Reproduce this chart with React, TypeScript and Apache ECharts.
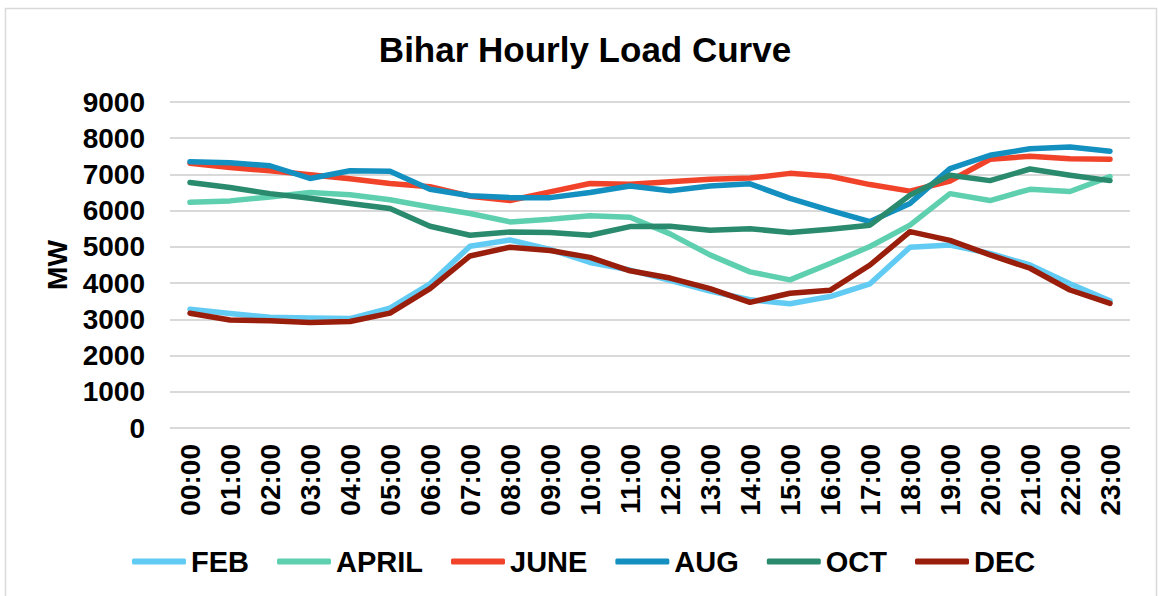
import React, { useEffect, useRef } from "react";
import * as echarts from "echarts";

const hours = [
  "00:00", "01:00", "02:00", "03:00", "04:00", "05:00", "06:00", "07:00",
  "08:00", "09:00", "10:00", "11:00", "12:00", "13:00", "14:00", "15:00",
  "16:00", "17:00", "18:00", "19:00", "20:00", "21:00", "22:00", "23:00",
];

const feb = [3280, 3160, 3060, 3040, 3020, 3310, 3980, 5020, 5190, 4930, 4570, 4360, 4080, 3780, 3540, 3430, 3630, 3980, 4990, 5050, 4820, 4500, 3980, 3510];
const april = [6230, 6270, 6380, 6500, 6440, 6300, 6100, 5920, 5690, 5760, 5860, 5820, 5360, 4780, 4310, 4090, 4540, 5010, 5600, 6470, 6280, 6590, 6530, 6940];
const june = [7310, 7190, 7100, 6990, 6880, 6750, 6660, 6400, 6280, 6520, 6750, 6730, 6800, 6870, 6900, 7030, 6950, 6720, 6540, 6820, 7420, 7500, 7430, 7420];
const aug = [7350, 7320, 7240, 6890, 7100, 7090, 6590, 6410, 6360, 6360, 6500, 6680, 6550, 6680, 6740, 6340, 6010, 5700, 6200, 7160, 7530, 7710, 7760, 7640];
const oct = [6780, 6640, 6470, 6340, 6200, 6060, 5570, 5320, 5410, 5400, 5320, 5560, 5570, 5460, 5500, 5400, 5490, 5600, 6430, 6980, 6830, 7150, 6980, 6830];
const dec = [3170, 2980, 2960, 2910, 2940, 3170, 3850, 4750, 4990, 4900, 4710, 4340, 4140, 3850, 3470, 3720, 3800, 4500, 5420, 5180, 4780, 4410, 3810, 3440];

const seriesNames = ["FEB", "APRIL", "JUNE", "AUG", "OCT", "DEC"];
const seriesData = [feb, april, june, aug, oct, dec];
const seriesColors = ["#62CBF3", "#5FD0AF", "#F0432A", "#1390C0", "#2A8A6D", "#9A1E0C"];

const FONT = "'Liberation Sans', Arial, sans-serif";

export default function App() {
  const ref = useRef<HTMLDivElement>(null);

  useEffect(() => {
    if (!ref.current) return;
    const chart = echarts.init(ref.current, null, { renderer: "svg" });
    chart.setOption({
      animation: false,
      backgroundColor: "#ffffff",
      textStyle: { fontFamily: FONT },
      title: {
        text: "Bihar Hourly Load Curve",
        left: 580,
        textAlign: "center",
        top: 27,
        textStyle: { fontFamily: FONT, fontSize: 35, fontWeight: "bold", color: "#000" },
      },
      graphic: [
        {
          type: "rect",
          shape: { x: 5.5, y: 8.5, width: 1151, height: 620 },
          style: { fill: "none", stroke: "#d9d9d9", lineWidth: 1.5 },
          silent: true,
          z: -10,
        },
      ],
      legend: {
        bottom: 15,
        left: 127,
        icon: "roundRect",
        itemWidth: 54,
        itemHeight: 6,
        itemGap: 28,
        textStyle: { fontFamily: FONT, fontSize: 29, fontWeight: "bold", color: "#000" },
        data: seriesNames,
      },
      grid: { left: 170, right: 28, top: 102, bottom: 168 },
      xAxis: {
        type: "category",
        data: hours,
        boundaryGap: true,
        axisLine: { show: false },
        axisTick: { show: false },
        axisLabel: {
          rotate: 90,
          margin: 16,
          interval: 0,
          fontFamily: FONT,
          fontSize: 28,
          fontWeight: "bold",
          color: "#000",
        },
      },
      yAxis: {
        type: "value",
        min: 0,
        max: 9000,
        interval: 1000,
        name: "MW",
        nameLocation: "middle",
        nameGap: 94,
        nameRotate: 90,
        nameTextStyle: { fontFamily: FONT, fontSize: 28, fontWeight: "bold", color: "#000" },
        axisLine: { show: false },
        axisTick: { show: false },
        splitLine: { lineStyle: { color: "#d9d9d9", width: 2 } },
        axisLabel: {
          margin: 25,
          formatter: (v: number) => String(v),
          fontFamily: FONT,
          fontSize: 28,
          fontWeight: "bold",
          color: "#000",
        },
      },
      series: seriesNames.map((name, i) => ({
        name,
        type: "line",
        data: seriesData[i],
        symbol: "none",
        color: seriesColors[i],
        lineStyle: { width: 5.5, color: seriesColors[i], cap: "round", join: "round" },
      })),
    });
    return () => chart.dispose();
  }, []);

  return (
    <div
      ref={ref}
      style={{ position: "fixed", left: 0, top: 0, width: 1158, height: 596 }}
    />
  );
}
